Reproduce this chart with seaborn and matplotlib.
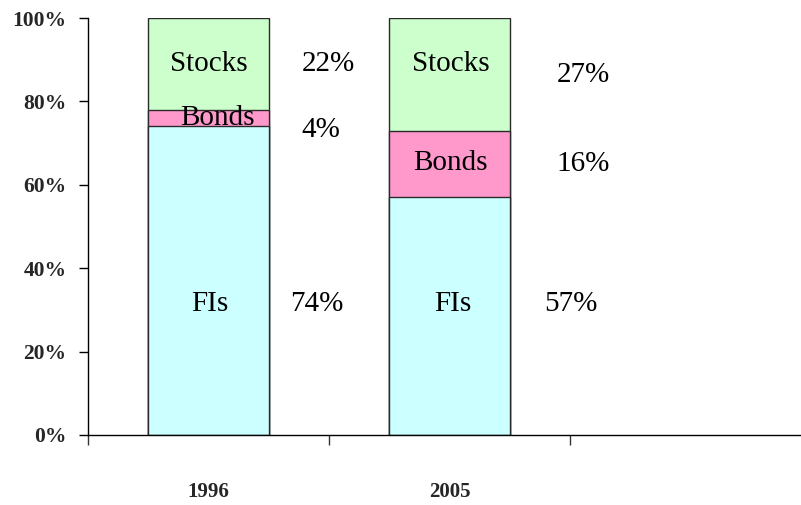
import matplotlib
matplotlib.use("Agg")
import matplotlib.pyplot as plt
import seaborn as sns
import pandas as pd
import numpy as np

# ---- data ----
years = ["1996", "2005"]
fis = [0.74, 0.57]
bonds = [0.04, 0.16]
stocks = [0.22, 0.27]
segment_names = ["FIs", "Bonds", "Stocks"]
pct_labels_1996 = ["74%", "4%", "22%"]
pct_labels_2005 = ["57%", "16%", "27%"]
y_ticks = [0.0, 0.2, 0.4, 0.6, 0.8, 1.0]
y_tick_labels = ["0%", "20%", "40%", "60%", "80%", "100%"]

sns.set_style("white")
plt.rcParams["font.family"] = ["Liberation Serif", "DejaVu Serif"]

df = pd.DataFrame({
    "year": years,
    "FIs": fis,
    "Bonds": bonds,
    "Stocks": stocks,
})
df["cum_fis"] = df["FIs"]
df["cum_bonds"] = df["FIs"] + df["Bonds"]
df["cum_stocks"] = df["FIs"] + df["Bonds"] + df["Stocks"]

fig = plt.figure(figsize=(8.01, 5.05), dpi=100)
ax = fig.add_axes([88 / 801, 70 / 505, 713 / 801, 417 / 505])

edge = "#2a2a2a"
layers = [("cum_stocks", "#CCFFCC"), ("cum_bonds", "#FF99CC"), ("cum_fis", "#CCFFFF")]
for col, colr in layers:
    sns.barplot(data=df, x="year", y=col, order=years, color=colr, width=0.5,
                edgecolor=edge, linewidth=1.0, errorbar=None, saturation=1, ax=ax)

# segment labels (layout positions in data coordinates)
seg_pos = {
    "1996": [(0.006, 0.315), (0.035, 0.760), (0.002, 0.890)],
    "2005": [(1.015, 0.315), (1.002, 0.653), (1.006, 0.890)],
}
pct_pos = {
    "1996": [(0.450, 0.315), (0.467, 0.732), (0.496, 0.890)],
    "2005": [(1.504, 0.315), (1.554, 0.651), (1.554, 0.864)],
}
pct_text = {"1996": pct_labels_1996, "2005": pct_labels_2005}
for yr in years:
    for name, (x, y) in zip(segment_names, seg_pos[yr]):
        ax.text(x, y, name, ha="center", va="center", fontsize=21, color="black")
    for lab, (x, y) in zip(pct_text[yr], pct_pos[yr]):
        ax.text(x, y, lab, ha="center", va="center", fontsize=21, color="black")

ax.set_xlim(-0.5, 2.458)
ax.set_ylim(0, 1.0)

ax.set_yticks(y_ticks)
ax.set_yticklabels(y_tick_labels, fontsize=15.5, fontweight="bold")
ax.tick_params(axis="y", direction="out", length=6.5, width=1, color="black", pad=9, left=True)

ax.set_xticks([0, 1])
ax.set_xticklabels(years, fontsize=15, fontweight="bold")
ax.set_xticks([-0.5, 0.5, 1.5], minor=True)
ax.tick_params(axis="x", which="major", length=0, pad=34)
ax.tick_params(axis="x", which="minor", direction="out", length=7, width=1, color="#333333", bottom=True)

ax.set_xlabel("")
ax.set_ylabel("")
for s in ["top", "right"]:
    ax.spines[s].set_visible(False)
for s in ["left", "bottom"]:
    ax.spines[s].set_color("black")
    ax.spines[s].set_linewidth(1)

fig.savefig("out.png", dpi=100)
